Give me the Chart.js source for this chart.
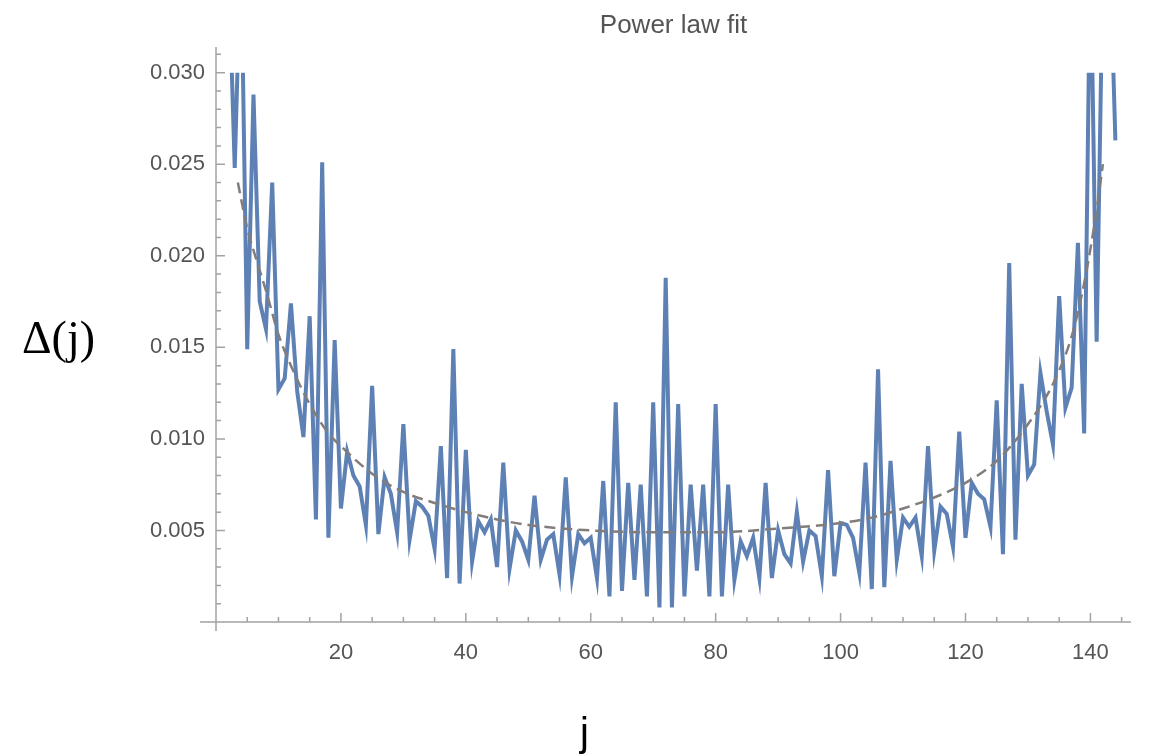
<!DOCTYPE html>
<html>
<head>
<meta charset="utf-8">
<script src="https://cdn.jsdelivr.net/npm/chart.js@4.4.0/dist/chart.umd.min.js"></script>
<style>
    body { margin: 0; background: #fff; }
    #wrap { position: relative; width: 1150px; height: 755px; }
    #delta-label { position: absolute; left: 22px; top: 315px; font: 46px 'Liberation Serif', 'Times New Roman', serif; line-height: 46px; color: #000; }
    #j-label { position: absolute; left: 580px; top: 712px; font: 40px 'Liberation Sans', Arial, sans-serif; line-height: 40px; color: #000; }
</style>
</head>
<body>
<div id="wrap">
    <canvas id="fit-chart" width="1150" height="755"></canvas>
    <div id="delta-label">Δ(j)</div>
    <div id="j-label">j</div>
</div>
<script>
// Data (values above 0.030 are clipped in the original)
const jValues = [
    2, 3, 4, 5, 6, 7, 8, 9, 10, 11, 12, 13, 14, 15, 16, 17, 18, 19, 20, 21,
    22, 23, 24, 25, 26, 27, 28, 29, 30, 31, 32, 33, 34, 35, 36, 37, 38, 39, 40, 41,
    42, 43, 44, 45, 46, 47, 48, 49, 50, 51, 52, 53, 54, 55, 56, 57, 58, 59, 60, 61,
    62, 63, 64, 65, 66, 67, 68, 69, 70, 71, 72, 73, 74, 75, 76, 77, 78, 79, 80, 81,
    82, 83, 84, 85, 86, 87, 88, 89, 90, 91, 92, 93, 94, 95, 96, 97, 98, 99, 100, 101,
    102, 103, 104, 105, 106, 107, 108, 109, 110, 111, 112, 113, 114, 115, 116, 117, 118, 119, 120, 121,
    122, 123, 124, 125, 126, 127, 128, 129, 130, 131, 132, 133, 134, 135, 136, 137, 138, 139, 140, 141,
    142, 143, 144
];
const deltaValues = [
    0.0360, 0.0248, 0.0370, 0.0149, 0.0288, 0.0175, 0.0160, 0.0240, 0.0127, 0.0133,
    0.0174, 0.0126, 0.0101, 0.0167, 0.0056, 0.0251, 0.0046, 0.0154, 0.0062, 0.0093,
    0.0080, 0.0074, 0.0053, 0.0129, 0.0048, 0.0079, 0.0070, 0.0049, 0.0108, 0.0045,
    0.0066, 0.0063, 0.0058, 0.0040, 0.0096, 0.0024, 0.0149, 0.0021, 0.0094, 0.0033,
    0.0055, 0.0049, 0.0056, 0.0030, 0.0087, 0.0029, 0.0050, 0.0044, 0.0034, 0.0069,
    0.0034, 0.0045, 0.0048, 0.0026, 0.0079, 0.0025, 0.0048, 0.0043, 0.0046, 0.0024,
    0.0077, 0.0014, 0.0120, 0.0017, 0.0076, 0.0023, 0.0075, 0.0014, 0.0120, 0.0008,
    0.0188, 0.0008, 0.0119, 0.0014, 0.0075, 0.0028, 0.0075, 0.0014, 0.0119, 0.0014,
    0.0075, 0.0023, 0.0044, 0.0036, 0.0046, 0.0024, 0.0076, 0.0024, 0.0050, 0.0037,
    0.0032, 0.0060, 0.0033, 0.0050, 0.0047, 0.0025, 0.0083, 0.0025, 0.0054, 0.0053,
    0.0046, 0.0027, 0.0087, 0.0018, 0.0138, 0.0019, 0.0088, 0.0034, 0.0057, 0.0052,
    0.0057, 0.0036, 0.0096, 0.0039, 0.0063, 0.0059, 0.0041, 0.0104, 0.0046, 0.0076,
    0.0070, 0.0067, 0.0052, 0.0121, 0.0037, 0.0196, 0.0045, 0.0130, 0.0080, 0.0086,
    0.0136, 0.0115, 0.0097, 0.0178, 0.0117, 0.0128, 0.0207, 0.0103, 0.0370, 0.0153,
    0.0360, 0.0380, 0.0263
];

// Power law fit curve, sampled off the dashed line
const fitJ = [3.5, 5, 6, 8, 10, 12, 15, 18, 20, 25, 30, 35, 40, 45, 50, 60, 70, 80, 90, 100, 105, 110, 115, 120, 125, 130, 134, 137, 139, 141, 142];
const fitValues = [0.0240, 0.0215, 0.0203, 0.0181, 0.0157, 0.0140, 0.0119, 0.0103, 0.0096, 0.0081, 0.0071, 0.0065, 0.0060, 0.0056, 0.0053, 0.0050, 0.0049, 0.0049, 0.0051, 0.0054, 0.0057, 0.0062, 0.0068, 0.0076, 0.0088, 0.0108, 0.0130, 0.0156, 0.0185, 0.0225, 0.0250];

const xMin = 0, xMax = 146.5;
const yMin = 0, yMax = 0.0314;
const plotRangeTop = 0.030;
const xMajorStep = 20, xMinorStep = 5;
const yMajorStep = 0.005, yMinorStep = 0.001;

const blue = '#5e81b5';
const axisGray = '#a3a3a3';
const labelGray = '#555555';

// Mathematica-style axes: lines through the origin, ticks pointing inward
const mmaAxes = {
    id: 'mmaAxes',
    beforeDatasetsDraw(chart) {
        const { ctx, scales: { x, y } } = chart;
        const x0 = x.getPixelForValue(0);
        const y0 = y.getPixelForValue(0);
        ctx.save();
        ctx.strokeStyle = axisGray;
        ctx.lineWidth = 1.5;
        ctx.beginPath();
        ctx.moveTo(x0 - 16, y0);
        ctx.lineTo(x.right, y0);
        ctx.moveTo(x0, y.top);
        ctx.lineTo(x0, y0 + 9);
        for (let v = xMinorStep; v <= xMax; v += xMinorStep) {
            const px = x.getPixelForValue(v);
            const len = v % xMajorStep === 0 ? 9 : 5;
            ctx.moveTo(px, y0);
            ctx.lineTo(px, y0 - len);
        }
        const nMinor = Math.floor(yMax / yMinorStep + 1e-9);
        for (let k = 1; k <= nMinor; k++) {
            const py = y.getPixelForValue(k * yMinorStep);
            const len = k % Math.round(yMajorStep / yMinorStep) === 0 ? 9 : 5;
            ctx.moveTo(x0, py);
            ctx.lineTo(x0 + len, py);
        }
        ctx.stroke();
        ctx.restore();
    },
    // clip the data line at the plot range like the original
    beforeDatasetDraw(chart, args) {
        if (args.index !== 0) return;
        const { ctx, chartArea, scales: { y } } = chart;
        const top = y.getPixelForValue(plotRangeTop);
        ctx.save();
        ctx.beginPath();
        ctx.rect(chartArea.left - 10, top, chartArea.width + 20, chartArea.bottom - top + 10);
        ctx.clip();
    },
    afterDatasetDraw(chart, args) {
        if (args.index !== 0) return;
        chart.ctx.restore();
    }
};

const dataPoints = jValues.map((j, i) => ({ x: j, y: deltaValues[i] }));
const fitPoints = fitJ.map((j, i) => ({ x: j, y: fitValues[i] }));

const ctx = document.getElementById('fit-chart').getContext('2d');
new Chart(ctx, {
    type: 'scatter',
    data: {
        datasets: [{
            label: 'Δ(j)',
            data: dataPoints,
            showLine: true,
            borderColor: blue,
            borderWidth: 4,
            pointRadius: 0,
            tension: 0,
            order: 1
        }, {
            label: 'fit',
            data: fitPoints,
            showLine: true,
            borderColor: '#827d7a',
            borderWidth: 2.5,
            borderDash: [11, 6],
            pointRadius: 0,
            cubicInterpolationMode: 'monotone',
            order: 0
        }]
    },
    plugins: [mmaAxes],
    options: {
        responsive: false,
        animation: false,
        layout: { padding: { left: 0, right: 19, top: 0, bottom: 0 } },
        plugins: {
            legend: { display: false },
            tooltip: { enabled: false },
            title: {
                display: true,
                text: 'Power law fit',
                fullSize: false,
                color: labelGray,
                font: { family: "'Liberation Sans', Arial, sans-serif", size: 26, weight: 'normal' },
                padding: { top: 10, bottom: 5.8 }
            }
        },
        scales: {
            x: {
                type: 'linear',
                min: xMin,
                max: xMax,
                afterFit: s => { s.height = 133; },
                grid: { display: false, drawTicks: false },
                border: { display: false },
                ticks: {
                    stepSize: xMajorStep,
                    includeBounds: false,
                    maxRotation: 0,
                    padding: 18,
                    color: labelGray,
                    font: { family: "'Liberation Sans', Arial, sans-serif", size: 22 },
                    callback: v => v === 0 ? '' : v
                }
            },
            y: {
                type: 'linear',
                min: yMin,
                max: yMax,
                afterFit: s => { s.width = 216; },
                grid: { display: false, drawTicks: false },
                border: { display: false },
                ticks: {
                    stepSize: yMajorStep,
                    includeBounds: false,
                    padding: 11,
                    color: labelGray,
                    font: { family: "'Liberation Sans', Arial, sans-serif", size: 22 },
                    callback: v => Math.abs(v) < 1e-9 ? '' : v.toFixed(3)
                }
            }
        }
    }
});
</script>
</body>
</html>
